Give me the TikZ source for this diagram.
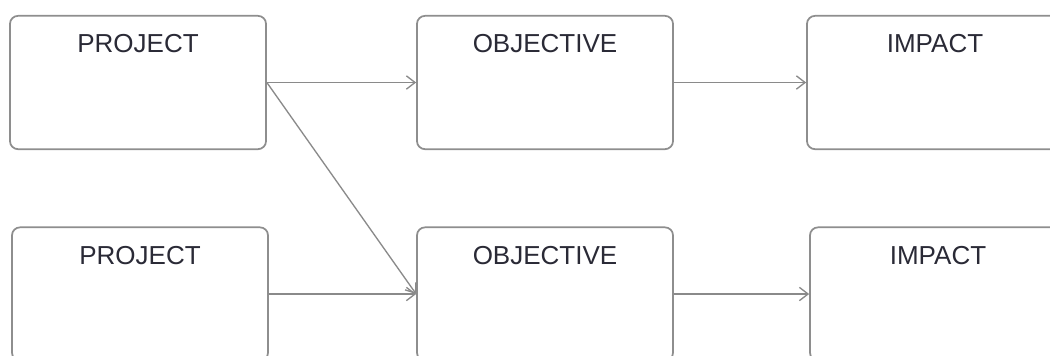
\documentclass[tikz,border=0pt]{standalone}
\usepackage{fontspec}
\setmainfont{Liberation Sans}
\usetikzlibrary{arrows.meta}
\definecolor{boxgray}{HTML}{8E8E8E}
\definecolor{linegray}{HTML}{8A8A8A}
\definecolor{txt}{HTML}{2A2A36}
\tikzset{
  card/.style={draw=boxgray, line width=1.3pt, rounded corners=6pt, fill=white,
    minimum width=192pt, minimum height=100pt, inner sep=0pt},
  ttl/.style={anchor=north, text=txt, font=\fontsize{19.5}{22}\selectfont, inner sep=0pt, yshift=-14.5pt},
  conn/.style={draw=linegray, line width=1pt, -{Straight Barb[length=6.5pt,width=10pt,line width=1pt]}}
}
\begin{document}
\begin{tikzpicture}[x=0.75pt,y=-0.75pt]
\useasboundingbox (0,0) rectangle (1050,355);
\clip (0,0) rectangle (1050,355);
\node[card] (p1) at (138,82.5) {};
\node[card] (o1) at (545,82.5) {};
\node[card] (i1) at (935,82.5) {};
\node[card] (p2) at (140,294) {};
\node[card] (o2) at (545,294) {};
\node[card] (i2) at (938,294) {};
\node[ttl] (tp1) at (p1.north) {PROJECT};
\node[ttl] (to1) at (o1.north) {OBJECTIVE};
\node[ttl] (ti1) at (i1.north) {IMPACT};
\node[ttl] (tp2) at (p2.north) {PROJECT};
\node[ttl] (to2) at (o2.north) {OBJECTIVE};
\node[ttl] (ti2) at (i2.north) {IMPACT};
\draw[conn] (p1.east) -- (o1.west);
\draw[conn] (o1.east) -- (i1.west);
\draw[conn] (p1.east) -- (o2.west);
\draw[conn] (p2.east) -- (o2.west);
\draw[conn] (o2.east) -- (i2.west);
\end{tikzpicture}
\end{document}
